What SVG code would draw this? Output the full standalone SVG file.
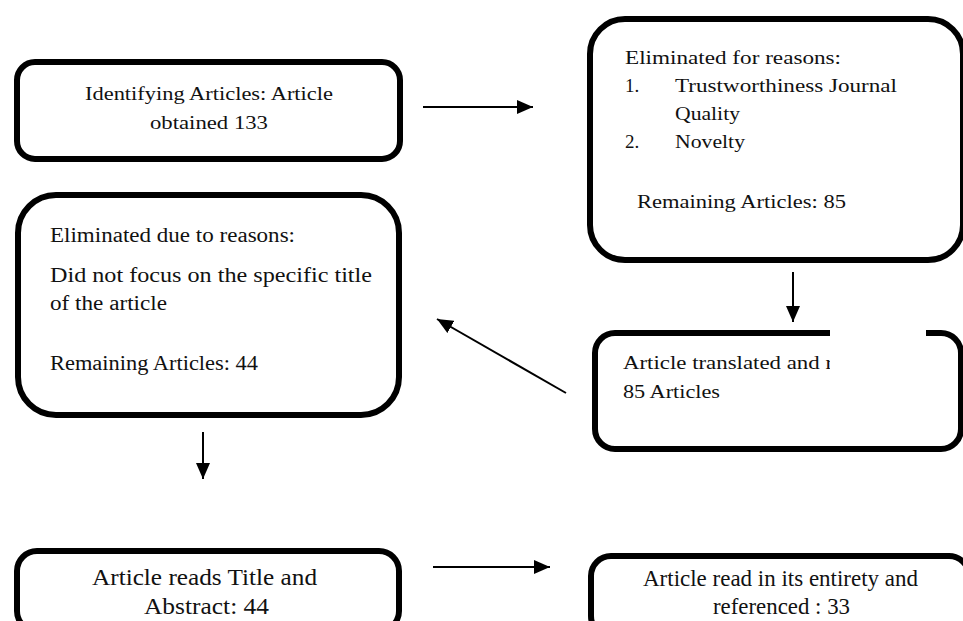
<svg xmlns="http://www.w3.org/2000/svg" width="963" height="621" viewBox="0 0 963 621">
<defs>
<marker id="ah" markerUnits="userSpaceOnUse" markerWidth="16" markerHeight="14" refX="16" refY="7" orient="auto">
<path d="M0,0 L16,7 L0,14 z" fill="#000"/>
</marker>
<style>
.box{fill:#fff;stroke:#000;stroke-width:6}
.t{font-family:"Liberation Serif","Times New Roman",serif;font-size:19px;fill:#111}
.b{font-size:20px}
.c{font-size:23px}
.conn line{stroke:#000;stroke-width:2;marker-end:url(#ah)}
</style>
</defs>
<rect width="963" height="621" fill="#fff"/>
<g id="node-identify">
<rect class="box" x="17" y="62" width="383" height="97" rx="18"/>
<text class="t" x="85" y="100" textLength="248" lengthAdjust="spacingAndGlyphs">Identifying Articles: Article</text>
<text class="t" x="150" y="129" textLength="118" lengthAdjust="spacingAndGlyphs">obtained 133</text>
</g>
<g id="node-eliminated1">
<rect class="box" x="590" y="19" width="373" height="241" rx="35"/>
<text class="t" x="625" y="64" textLength="216" lengthAdjust="spacingAndGlyphs">Eliminated for reasons:</text>
<text class="t" x="625" y="92">1.</text>
<text class="t" x="675" y="92" textLength="222" lengthAdjust="spacingAndGlyphs">Trustworthiness Journal</text>
<text class="t" x="675" y="120" textLength="65" lengthAdjust="spacingAndGlyphs">Quality</text>
<text class="t" x="625" y="148">2.</text>
<text class="t" x="675" y="148" textLength="70" lengthAdjust="spacingAndGlyphs">Novelty</text>
<text class="t" x="637" y="208" textLength="209" lengthAdjust="spacingAndGlyphs">Remaining Articles: 85</text>
</g>
<g id="node-eliminated2">
<rect class="box" x="18" y="195" width="381" height="220" rx="38"/>
<text class="t b" x="50" y="242" textLength="245" lengthAdjust="spacingAndGlyphs">Eliminated due to reasons:</text>
<text class="t b" x="50" y="282" textLength="322" lengthAdjust="spacingAndGlyphs">Did not focus on the specific title</text>
<text class="t b" x="50" y="310" textLength="117" lengthAdjust="spacingAndGlyphs">of the article</text>
<text class="t b" x="50" y="370" textLength="208" lengthAdjust="spacingAndGlyphs">Remaining Articles: 44</text>
</g>
<g id="node-translated">
<rect class="box" x="595" y="333" width="366" height="116" rx="20"/>
<text class="t" x="623" y="369" textLength="210" lengthAdjust="spacingAndGlyphs">Article translated and r</text>
<text class="t" x="623" y="398" textLength="97" lengthAdjust="spacingAndGlyphs">85 Articles</text>
<rect x="830" y="326" width="96" height="56" fill="#fff"/>
</g>
<g id="node-title-abstract">
<rect class="box" x="17" y="551" width="382" height="80" rx="20"/>
<text class="t c" x="92" y="585" textLength="225" lengthAdjust="spacingAndGlyphs">Article reads Title and</text>
<text class="t c" x="144" y="614" textLength="125" lengthAdjust="spacingAndGlyphs">Abstract: 44</text>
</g>
<g id="node-entirety">
<rect class="box" x="591" y="556" width="378" height="80" rx="20"/>
<text class="t c" x="643" y="586" textLength="275" lengthAdjust="spacingAndGlyphs">Article read in its entirety and</text>
<text class="t c" x="713" y="614" textLength="137" lengthAdjust="spacingAndGlyphs">referenced : 33</text>
</g>
<g id="connectors" class="conn">
<line x1="423" y1="107" x2="533" y2="107"/>
<line x1="793" y1="272" x2="793" y2="322"/>
<line x1="566" y1="393" x2="437" y2="319"/>
<line x1="203" y1="432" x2="203" y2="479"/>
<line x1="433" y1="567" x2="550" y2="567"/>
</g>
</svg>
